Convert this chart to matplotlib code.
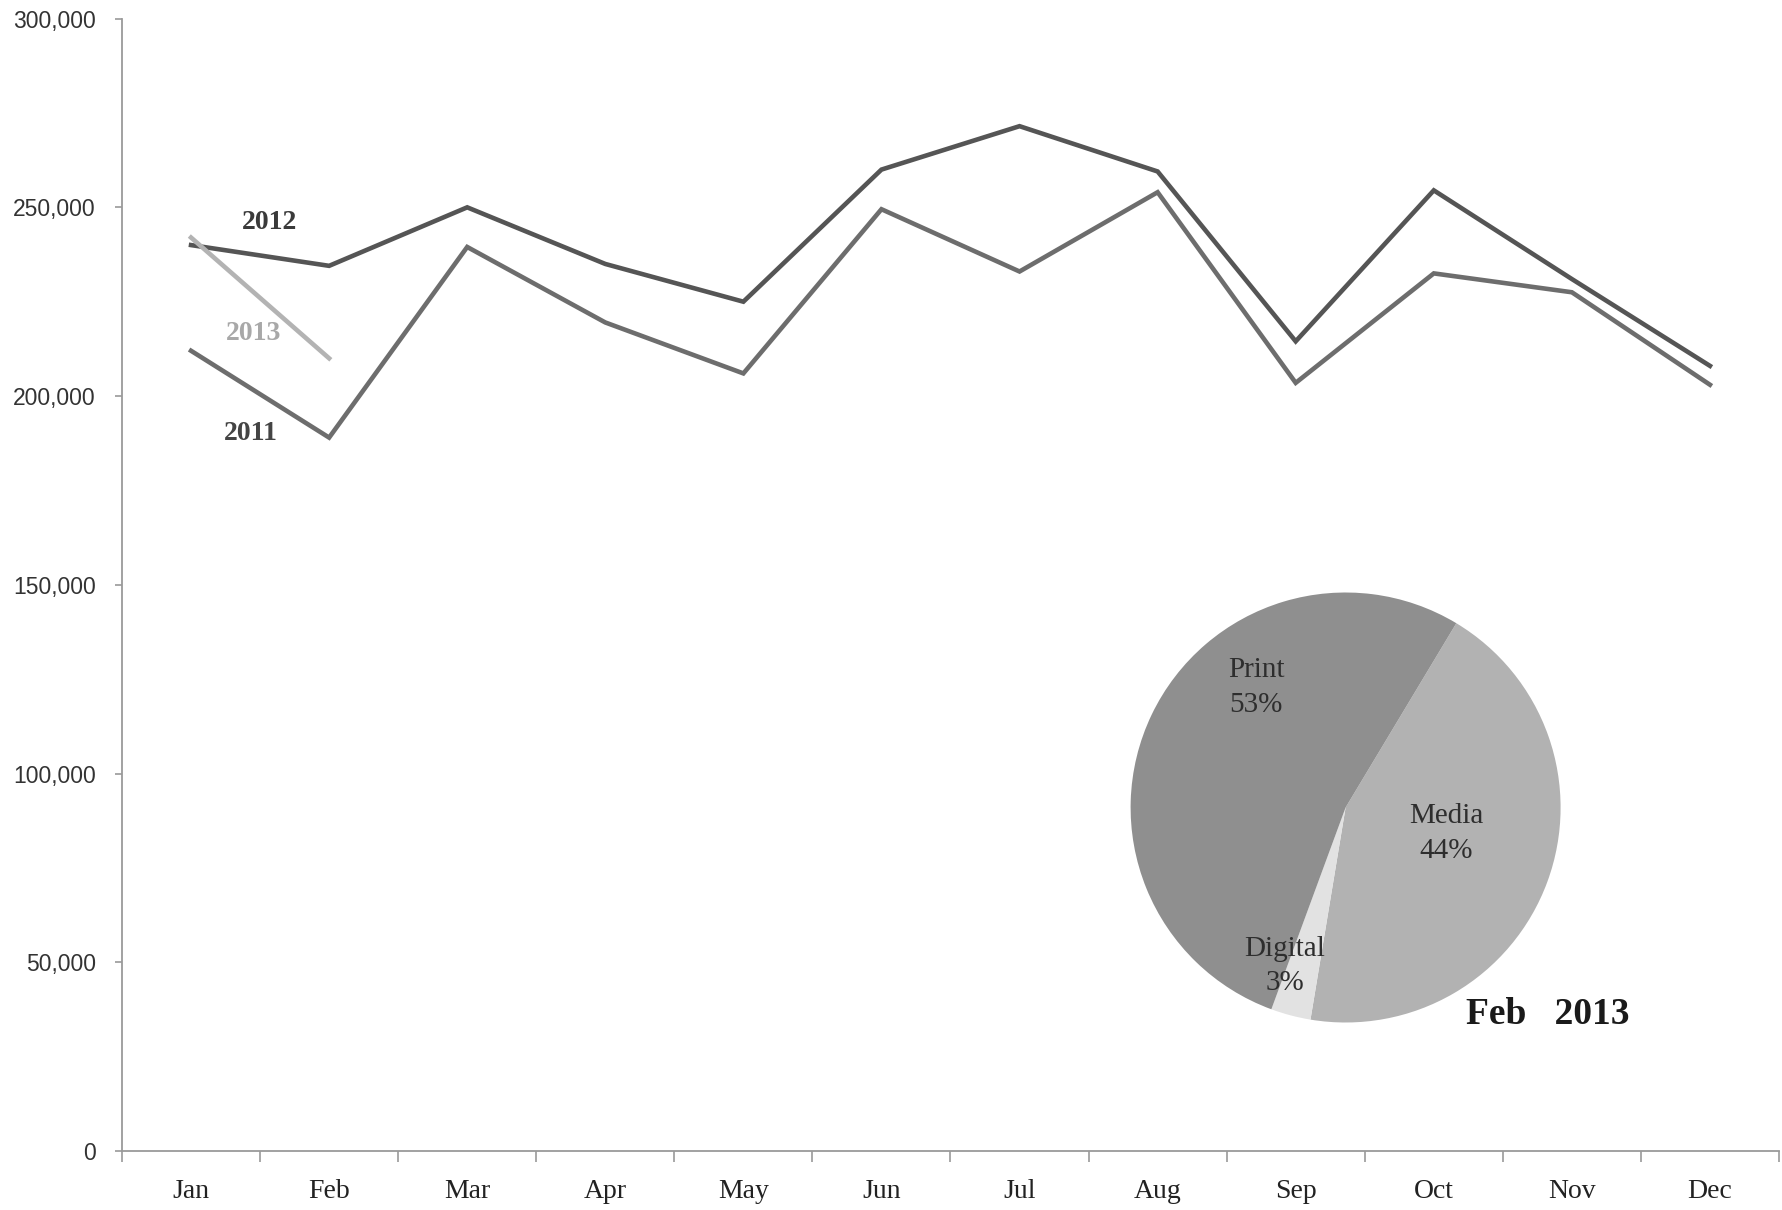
import matplotlib
matplotlib.use("Agg")
import matplotlib.pyplot as plt
from matplotlib.ticker import FuncFormatter, FixedLocator
import numpy as np

# Monthly totals
months = ["Jan", "Feb", "Mar", "Apr", "May", "Jun",
          "Jul", "Aug", "Sep", "Oct", "Nov", "Dec"]
sales_2011 = [212000, 189000, 239500, 219500, 206000, 249500,
              233000, 254000, 203500, 232500, 227500, 203000]
sales_2012 = [240000, 234500, 250000, 235000, 225000, 260000,
              271500, 259500, 214500, 254500, 231000, 208000]
sales_2013 = [242000, 210000]

# Channel split for Feb 2013
channels = ["Media", "Digital", "Print"]
channel_share = [44, 3, 53]

y_ticks = [0, 50000, 100000, 150000, 200000, 250000, 300000]

SERIF = ["Liberation Serif", "DejaVu Serif"]
SANS = ["Liberation Sans", "DejaVu Sans"]

W, H = 1782, 1210
fig = plt.figure(figsize=(W / 100, H / 100), dpi=100)
fig.patch.set_facecolor("white")

ax = fig.add_axes([122 / W, 1 - 1151 / H, (1779 - 122) / W, (1151 - 18.6) / H])
x = np.arange(len(months))

ax.plot(x, sales_2011, color="#6d6d6d", lw=3.3, solid_joinstyle="miter", zorder=3)
ax.plot(x, sales_2012, color="#555555", lw=3.3, solid_joinstyle="miter", zorder=4)
ax.plot(x[:len(sales_2013)], sales_2013, color="#b3b3b3", lw=3.3, zorder=5)

ax.set_xlim(-0.5, len(months) - 0.5)
ax.set_ylim(0, 300000)

for side in ("top", "right"):
    ax.spines[side].set_visible(False)
for side in ("left", "bottom"):
    ax.spines[side].set_color("#9a9a9a")
    ax.spines[side].set_linewidth(1.3)

ax.yaxis.set_major_locator(FixedLocator(y_ticks))
ax.yaxis.set_major_formatter(FuncFormatter(lambda v, p: f"{int(v):,}"))
ax.tick_params(axis="y", length=5, width=1.2, color="#9a9a9a", pad=14,
               labelsize=16.5, labelcolor="#333333")
for lab in ax.get_yticklabels():
    lab.set_fontfamily(SANS)

# month labels centred, boundary ticks between months
ax.set_xticks(x)
ax.set_xticklabels(months, fontfamily=SERIF, fontsize=20, color="#222222")
ax.tick_params(axis="x", which="major", length=0, pad=20)
ax.set_xticks(np.arange(-0.5, len(months)), minor=True)
ax.tick_params(axis="x", which="minor", length=8, width=1.2, color="#9a9a9a")

# series labels
ax.text(0.57, 246000, "2012", fontfamily=SERIF, fontsize=20, fontweight="bold",
        color="#3a3a3a", ha="center", va="center")
ax.text(0.45, 216500, "2013", fontfamily=SERIF, fontsize=20, fontweight="bold",
        color="#a8a8a8", ha="center", va="center")
ax.text(0.43, 190000, "2011", fontfamily=SERIF, fontsize=20, fontweight="bold",
        color="#444444", ha="center", va="center")

# pie inset
cx, cy, r = 1345.6, 807.5, 215
pax = fig.add_axes([(cx - r) / W, 1 - (cy + r) / H, 2 * r / W, 2 * r / H])
wedges, _ = pax.pie(channel_share, colors=["#b2b2b2", "#e2e2e2", "#8f8f8f"],
                    startangle=59, counterclock=False, radius=1.0,
                    wedgeprops=dict(linewidth=0))
pax.set_aspect("equal")
pax.set_xlim(-1, 1)
pax.set_ylim(-1, 1)
pax.axis("off")

def px(xp, yp):
    return ((xp - cx) / r, (cy - yp) / r)

for name, share, (lx, ly) in [("Print", 53, (1256, 687)),
                               ("Media", 44, (1446, 833)),
                               ("Digital", 3, (1285, 966))]:
    u, v = px(lx, ly)
    pax.text(u, v, f"{name}\n{share}%", fontfamily=SERIF, fontsize=21,
             color="#2e2e2e", ha="center", va="center", linespacing=1.45)

fig.text(1548 / W, 1 - 1014 / H, "Feb   2013", fontfamily=SERIF, fontsize=27,
         fontweight="bold", color="#1a1a1a", ha="center", va="center")

fig.savefig("out.png", dpi=100, facecolor="white")
